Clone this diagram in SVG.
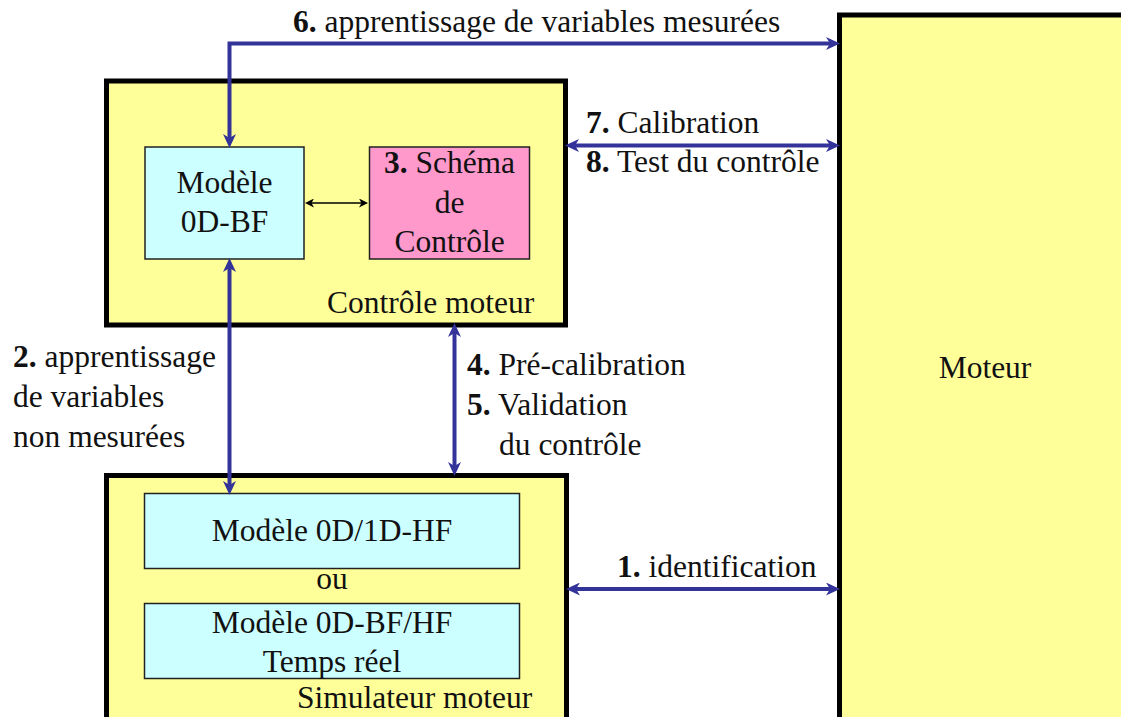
<svg xmlns="http://www.w3.org/2000/svg" width="1121" height="717" viewBox="0 0 1121 717">
<style>
text{font-family:"Liberation Serif","Times New Roman",serif;font-size:31.5px;fill:#111}
.b{font-weight:bold}
.m{text-anchor:middle}
.big{fill:#FFFF99;stroke:#000;stroke-width:5}
.cy{fill:#CCFFFF;stroke:#222;stroke-width:1.5}
.pk{fill:#FF99CC;stroke:#222;stroke-width:1.5}
.bl{fill:none;stroke:#333399;stroke-width:4}
.bk{fill:none;stroke:#000;stroke-width:1.5}
</style>
<defs>
<marker id="ah" viewBox="0 0 14 13" refX="6" refY="6.5" markerWidth="14" markerHeight="13" markerUnits="userSpaceOnUse" orient="auto-start-reverse">
<path d="M0,0 L14,6.5 L0,13 L4,6.5 z" fill="#333399"/>
</marker>
<marker id="ak" viewBox="0 0 9 9" refX="3" refY="4.5" markerWidth="9" markerHeight="9" markerUnits="userSpaceOnUse" orient="auto-start-reverse">
<path d="M0,0 L9,4.5 L0,9 L2.5,4.5 z" fill="#000"/>
</marker>
</defs>

<g id="moteur">
<rect class="big" x="839.5" y="15" width="300" height="720"/>
<text class="m" x="985" y="378">Moteur</text>
</g>

<g id="controle-moteur">
<rect class="big" x="106.5" y="81" width="459" height="244"/>
<text x="327" y="313">Contrôle moteur</text>
</g>

<g id="modele-bf">
<rect class="cy" x="145" y="147" width="159" height="112"/>
<text class="m" x="224.5" y="193">Modèle</text>
<text class="m" x="224.5" y="232">0D-BF</text>
</g>

<g id="schema">
<rect class="pk" x="369.5" y="147" width="160" height="112"/>
<text class="m" x="449.5" y="173"><tspan class="b">3.</tspan> Schéma</text>
<text class="m" x="449.5" y="213">de</text>
<text class="m" x="449.5" y="252">Contrôle</text>
</g>

<g id="simulateur-moteur">
<rect class="big" x="106.5" y="475.5" width="460" height="260"/>
<text x="297" y="708">Simulateur moteur</text>
<text class="m" x="332" y="589">ou</text>
</g>

<g id="modele-hf">
<rect class="cy" x="144.5" y="493.5" width="375" height="75"/>
<text class="m" x="332" y="541">Modèle 0D/1D-HF</text>
</g>

<g id="modele-tr">
<rect class="cy" x="144.5" y="603.5" width="375" height="75"/>
<text class="m" x="332" y="633">Modèle 0D-BF/HF</text>
<text class="m" x="332" y="672">Temps réel</text>
</g>

<g id="connectors">
<path class="bl" d="M229.5,140 V43.5 H832" marker-start="url(#ah)" marker-end="url(#ah)"/>
<path class="bl" d="M573,145.5 H832" marker-start="url(#ah)" marker-end="url(#ah)"/>
<path class="bl" d="M229.5,266 V487" marker-start="url(#ah)" marker-end="url(#ah)"/>
<path class="bl" d="M454.5,331 V468" marker-start="url(#ah)" marker-end="url(#ah)"/>
<path class="bl" d="M574,589 H832" marker-start="url(#ah)" marker-end="url(#ah)"/>
<path class="bk" d="M311,203 H362" marker-start="url(#ak)" marker-end="url(#ak)"/>
</g>

<g id="labels">
<text x="293" y="32"><tspan class="b">6.</tspan> apprentissage de variables mesurées</text>
<text x="586" y="133"><tspan class="b">7.</tspan> Calibration</text>
<text x="586" y="172"><tspan class="b">8.</tspan> Test du contrôle</text>
<text x="13" y="367"><tspan class="b">2.</tspan> apprentissage</text>
<text x="13" y="407">de variables</text>
<text x="13" y="447">non mesurées</text>
<text x="467" y="375"><tspan class="b">4.</tspan> Pré-calibration</text>
<text x="467" y="415"><tspan class="b">5.</tspan> Validation</text>
<text x="499" y="455">du contrôle</text>
<text x="617" y="577"><tspan class="b">1.</tspan> identification</text>
</g>
</svg>
